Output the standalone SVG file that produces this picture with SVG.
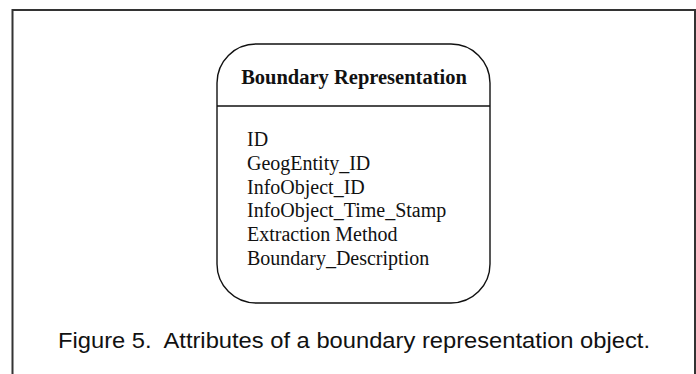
<svg xmlns="http://www.w3.org/2000/svg" width="696" height="374" viewBox="0 0 696 374">
  <style>
    .frame { fill: none; stroke: #333; stroke-width: 2; }
    .box { fill: #fff; stroke: #111; stroke-width: 1.4; }
    .rule { stroke: #111; stroke-width: 1.4; }
    .title { font-family: "Liberation Serif", "Times New Roman", serif; font-weight: bold; font-size: 20.5px; fill: #111; text-anchor: middle; }
    .attr { font-family: "Liberation Serif", "Times New Roman", serif; font-size: 20px; fill: #111; }
    .caption { font-family: "Liberation Sans", Arial, sans-serif; font-size: 22px; fill: #111; }
  </style>
  <rect width="696" height="374" fill="#fff"/>

  <!-- outer figure frame, open at the bottom -->
  <path class="frame" d="M12.5,375 V10 H695 V375"/>

  <g id="boundary-representation">
    <rect class="box" x="217" y="44" width="273" height="259" rx="39" ry="39"/>
    <line class="rule" x1="217" y1="106" x2="490" y2="106"/>
    <text class="title" x="354" y="84">Boundary Representation</text>
    <text class="attr" x="247" y="146">ID</text>
    <text class="attr" x="247" y="169.8">GeogEntity_ID</text>
    <text class="attr" x="247" y="193.6">InfoObject_ID</text>
    <text class="attr" x="247" y="217.4">InfoObject_Time_Stamp</text>
    <text class="attr" x="247" y="241.2">Extraction Method</text>
    <text class="attr" x="247" y="265">Boundary_Description</text>
  </g>

  <g id="connectors"></g>

  <text class="caption" x="58" y="348" textLength="592" lengthAdjust="spacingAndGlyphs">Figure 5.&#160; Attributes of a boundary representation object.</text>
</svg>
